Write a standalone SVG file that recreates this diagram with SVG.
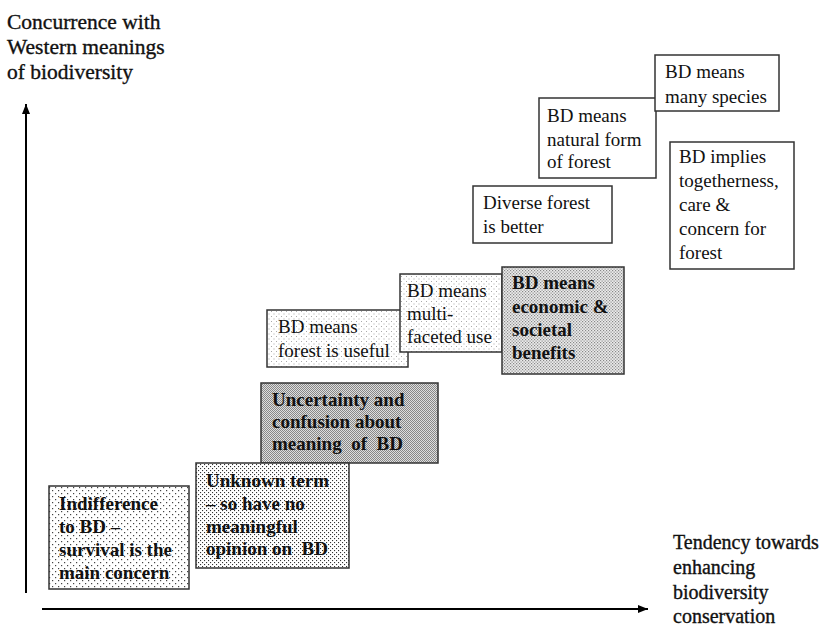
<svg xmlns="http://www.w3.org/2000/svg" width="833" height="629" viewBox="0 0 833 629">
<defs>
<pattern id="pSparse" width="6" height="6" patternUnits="userSpaceOnUse"><rect width="6" height="6" fill="#fff"/><rect x="1" y="1" width="1.2" height="1.2" fill="#444"/><rect x="4" y="4" width="1.2" height="1.2" fill="#444"/></pattern>
<pattern id="pDense" width="4" height="4" patternUnits="userSpaceOnUse"><rect width="4" height="4" fill="#fff"/><rect x="0" y="0" width="1.1" height="1.1" fill="#333"/><rect x="2" y="2" width="1.1" height="1.1" fill="#333"/></pattern>
<pattern id="pGray" width="2" height="2" patternUnits="userSpaceOnUse"><rect width="2" height="2" fill="#dedede"/><rect x="0" y="0" width="1" height="1" fill="#888"/><rect x="1" y="1" width="1" height="1" fill="#888"/></pattern>
<pattern id="pLightGray" width="3" height="3" patternUnits="userSpaceOnUse"><rect width="3" height="3" fill="#ececec"/><rect x="0" y="0" width="1.2" height="1.2" fill="#888"/><rect x="1.5" y="1.5" width="1.2" height="1.2" fill="#888"/></pattern>
<pattern id="pFaint" width="5" height="5" patternUnits="userSpaceOnUse"><rect width="5" height="5" fill="#fff"/><rect x="1" y="1" width="1" height="1" fill="#aaa"/><rect x="3.5" y="3.5" width="1" height="1" fill="#aaa"/></pattern>
<marker id="arr" viewBox="0 0 10 10" refX="10" refY="5" markerWidth="10" markerHeight="10" markerUnits="userSpaceOnUse" orient="auto"><path d="M0,1 L10,5 L0,9 Z" fill="#000"/></marker>
</defs>
<style>
.box{stroke:#333;stroke-width:1.5}
text{font-family:'Liberation Serif','DejaVu Serif','Times New Roman',serif}
.t{font-size:19px;fill:#111}
.b{font-weight:bold}
.pre{white-space:pre}
.ax{fill:#111;stroke:#111;stroke-width:0.35}
.ay{font-size:21.5px}
.axx{font-size:20px}
</style>
<rect width="833" height="629" fill="#fff"/>
<g id="connectors">
<line x1="26" y1="593" x2="26" y2="104" stroke="#000" stroke-width="2" marker-end="url(#arr)"/>
<line x1="42" y1="609" x2="648" y2="609" stroke="#000" stroke-width="2" marker-end="url(#arr)"/>
</g>
<g id="yaxis-label"><text class="ax ay" x="7" y="29">Concurrence with</text><text class="ax ay" x="7" y="54">Western meanings</text><text class="ax ay" x="7" y="79">of biodiversity</text></g>
<g id="xaxis-label"><text class="ax axx" x="673" y="549">Tendency towards</text><text class="ax axx" x="673" y="574">enhancing</text><text class="ax axx" x="673" y="599">biodiversity</text><text class="ax axx" x="673" y="623">conservation</text></g>
<g id="n1"><rect class="box" x="49" y="486" width="140" height="103" fill="url(#pSparse)"/><text class="t b"><tspan x="59" y="510">Indifference</tspan><tspan x="59" y="533">to BD –</tspan><tspan x="59" y="556">survival is the</tspan><tspan x="59" y="579">main concern</tspan></text></g>
<g id="n3"><rect class="box" x="261" y="383" width="177" height="80" fill="url(#pGray)"/><text class="t b pre" xml:space="preserve"><tspan x="272" y="406">Uncertainty and</tspan><tspan x="272" y="428">confusion about</tspan><tspan x="272" y="450">meaning  of  BD</tspan></text></g>
<g id="n2"><rect class="box" x="196" y="463" width="153" height="105" fill="url(#pDense)"/><text class="t b pre" xml:space="preserve"><tspan x="206" y="487">Unknown term</tspan><tspan x="206" y="510">– so have no</tspan><tspan x="206" y="533">meaningful</tspan><tspan x="206" y="555">opinion on  BD</tspan></text></g>
<g id="n4"><rect class="box" x="267" y="310" width="141" height="57" fill="url(#pFaint)"/><text class="t"><tspan x="278" y="333">BD means</tspan><tspan x="278" y="357">forest is useful</tspan></text></g>
<g id="n5"><rect class="box" x="400" y="274" width="102" height="78" fill="url(#pFaint)"/><text class="t"><tspan x="407" y="297">BD means</tspan><tspan x="407" y="320">multi-</tspan><tspan x="407" y="343">faceted use</tspan></text></g>
<g id="n6"><rect class="box" x="502" y="267" width="122" height="107" fill="url(#pLightGray)"/><text class="t b"><tspan x="512" y="289">BD means</tspan><tspan x="512" y="313">economic &amp;</tspan><tspan x="512" y="336">societal</tspan><tspan x="512" y="359">benefits</tspan></text></g>
<g id="n7"><rect class="box" x="473" y="186" width="139" height="57" fill="#fff"/><text class="t"><tspan x="483" y="209">Diverse forest</tspan><tspan x="483" y="233">is better</tspan></text></g>
<g id="n8"><rect class="box" x="539" y="98" width="117" height="80" fill="#fff"/><text class="t"><tspan x="547" y="122">BD means</tspan><tspan x="547" y="146">natural form</tspan><tspan x="547" y="168">of forest</tspan></text></g>
<g id="n9"><rect class="box" x="655" y="55" width="124" height="56" fill="#fff"/><text class="t"><tspan x="665" y="78">BD means</tspan><tspan x="665" y="103">many species</tspan></text></g>
<g id="n10"><rect class="box" x="670" y="142" width="124" height="127" fill="#fff"/><text class="t"><tspan x="679" y="163">BD implies</tspan><tspan x="679" y="187">togetherness,</tspan><tspan x="679" y="211">care &amp;</tspan><tspan x="679" y="235">concern for</tspan><tspan x="679" y="259">forest</tspan></text></g>
</svg>
